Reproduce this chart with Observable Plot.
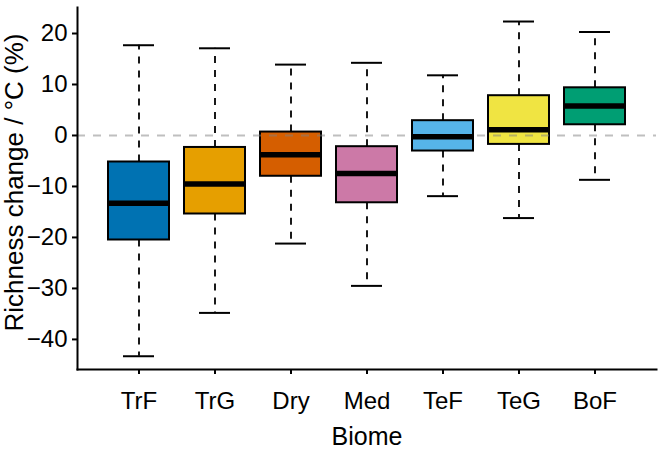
<!DOCTYPE html>
<html>
<head>
<meta charset="utf-8">
<script src="https://cdn.jsdelivr.net/npm/d3@7"></script>
<script src="https://cdn.jsdelivr.net/npm/@observablehq/plot@0.6"></script>
<style>
  html, body { margin: 0; padding: 0; background: #fff; }
</style>
</head>
<body>
<div id="chart"></div>
<script>
const biomes = ["TrF", "TrG", "Dry", "Med", "TeF", "TeG", "BoF"];
const lowerWhisker = [-43.3, -34.8, -21.2, -29.5, -11.9, -16.2, -8.7];
const q1 = [-20.5, -15.4, -8.0, -13.2, -3.05, -1.75, 2.1];
const median = [-13.3, -9.5, -3.8, -7.45, -0.25, 1.1, 5.8];
const q3 = [-5.2, -2.35, 0.67, -2.2, 2.9, 7.8, 9.35];
const upperWhisker = [17.7, 17.1, 13.9, 14.25, 11.8, 22.35, 20.3];
const yTicks = [20, 10, 0, -10, -20, -30, -40];

const rows = biomes.map((b, i) => ({
  biome: b, lo: lowerWhisker[i], q1: q1[i], med: median[i], q3: q3[i], hi: upperWhisker[i]
}));

const fmt = d => d < 0 ? "\u2212" + Math.abs(d) : String(d);

const chart = Plot.plot({
  width: 660,
  height: 450,
  marginLeft: 77,
  marginRight: 4,
  marginTop: 7,
  marginBottom: 81,
  style: {fontFamily: "'Liberation Sans', Arial, sans-serif", color: "black", background: "white"},
  x: {type: "band", domain: biomes, paddingInner: 0.2, paddingOuter: 0.378, label: null},
  y: {domain: [-45.9, 25.1], label: null},
  color: {domain: biomes, range: ["#0072B2", "#E69F00", "#D55E00", "#CC79A7", "#56B4E9", "#F0E442", "#009E73"]},
  marks: [
    Plot.ruleX(rows, {x: "biome", y1: "q3", y2: "hi", stroke: "black", strokeWidth: 1.8, strokeDasharray: "7,7"}),
    Plot.ruleX(rows, {x: "biome", y1: "q1", y2: "lo", stroke: "black", strokeWidth: 1.8, strokeDasharray: "7,7"}),
    Plot.tickY(rows, {x: "biome", y: "hi", stroke: "black", strokeWidth: 2, insetLeft: 15, insetRight: 15}),
    Plot.tickY(rows, {x: "biome", y: "lo", stroke: "black", strokeWidth: 2, insetLeft: 15, insetRight: 15}),
    Plot.barY(rows, {x: "biome", y1: "q1", y2: "q3", fill: "biome", stroke: "black", strokeWidth: 2}),
    Plot.ruleY([0], {stroke: "#808080", strokeOpacity: 0.5, strokeWidth: 2, strokeDasharray: "8,8"}),
    Plot.tickY(rows, {x: "biome", y: "med", stroke: "black", strokeWidth: 5.5}),
    Plot.frame({anchor: "left", stroke: "black", strokeWidth: 2}),
    Plot.frame({anchor: "bottom", stroke: "black", strokeWidth: 2}),
    Plot.axisY(yTicks, {tickSize: 5, tickPadding: 5, fontSize: 24, tickFormat: fmt, strokeWidth: 2, label: null}),
    Plot.axisX({tickSize: 5, tickPadding: 17, fontSize: 24, strokeWidth: 2, label: null}),
    Plot.text(["Richness change / \u00B0C (%)"], {frameAnchor: "left", textAnchor: "middle", rotate: -90, dx: -63, dy: -6, fontSize: 26, fill: "black", lineAnchor: "middle"}),
    Plot.text(["Biome"], {frameAnchor: "bottom", dy: 67, fontSize: 25, fill: "black", lineAnchor: "middle"})
  ]
});
document.getElementById("chart").appendChild(chart);
</script>
</body>
</html>
